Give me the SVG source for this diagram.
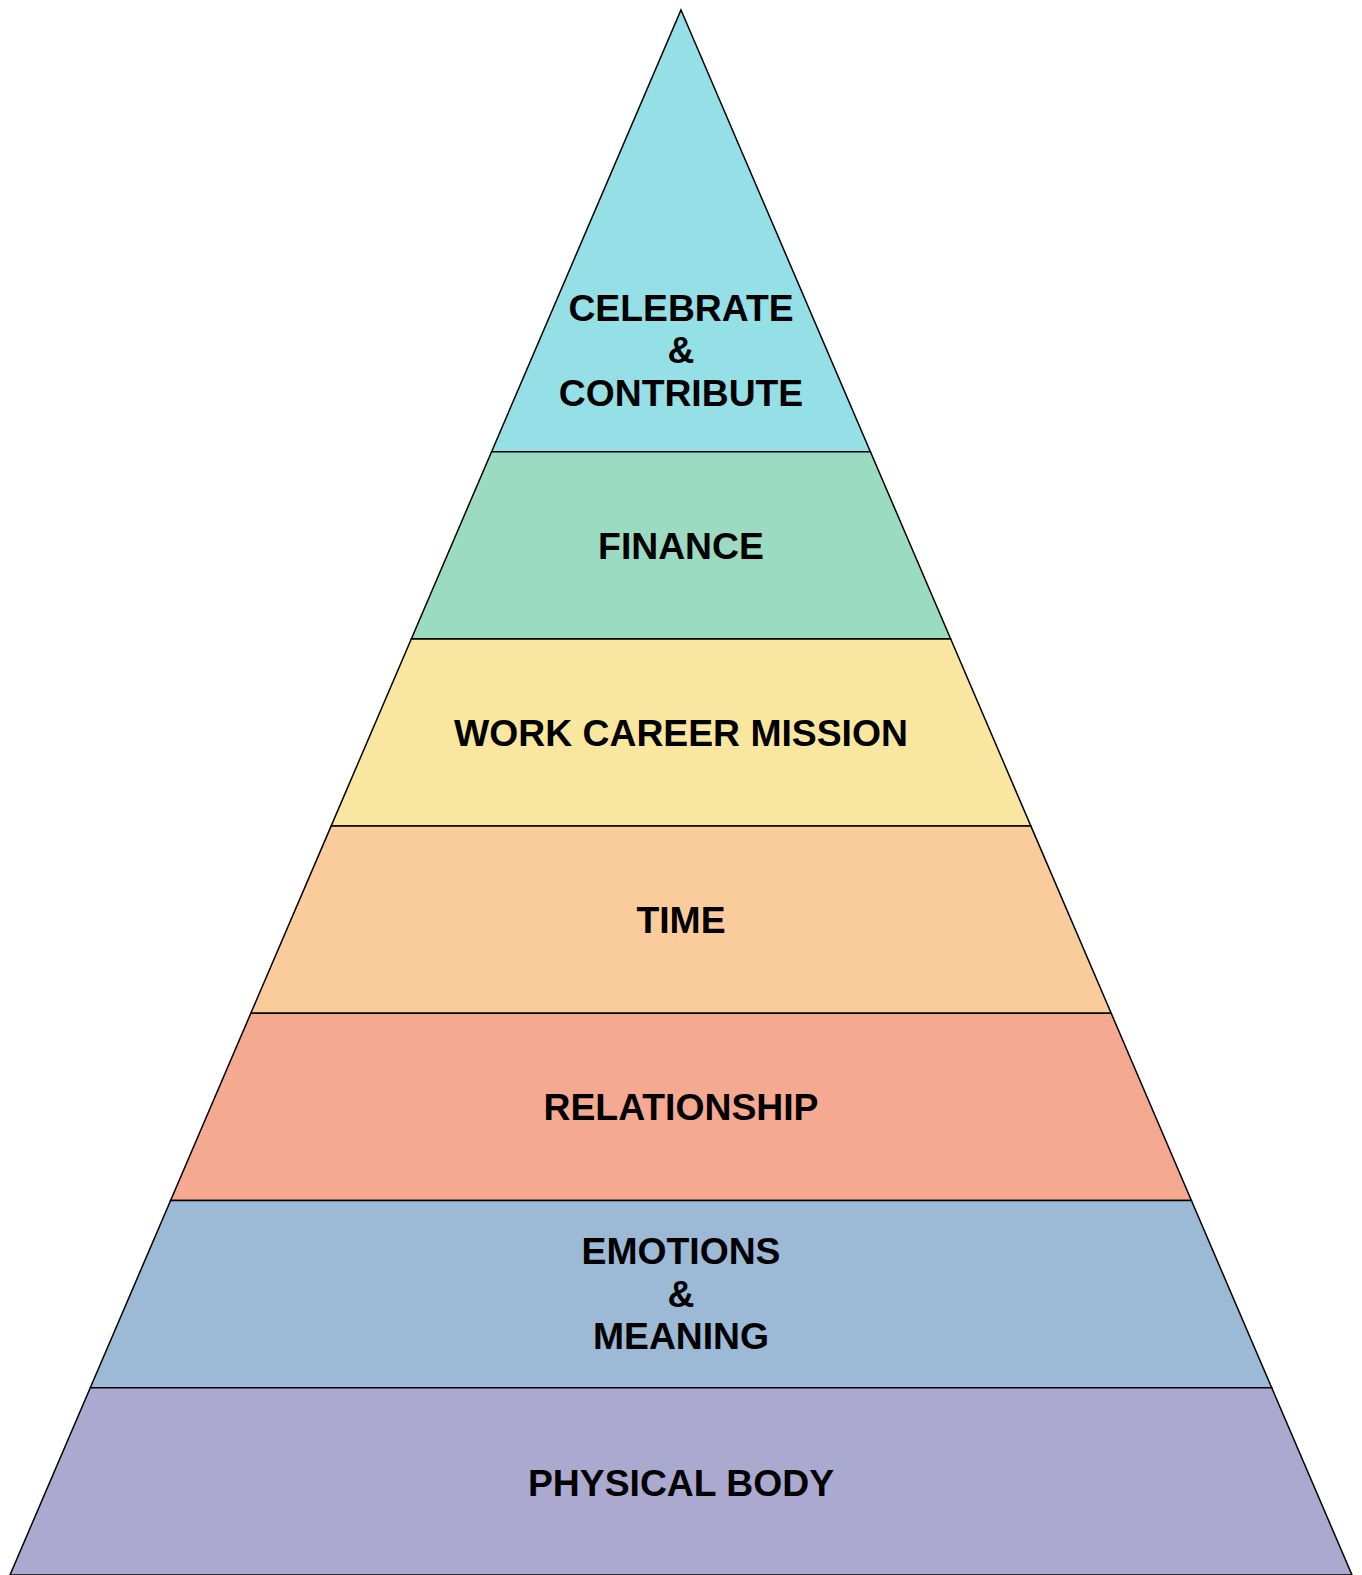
<svg xmlns="http://www.w3.org/2000/svg" width="1362" height="1575" viewBox="0 0 1362 1575">
<style>
.layer{stroke:#000;stroke-width:1.5;stroke-linejoin:miter}
.lbl{font-family:"Liberation Sans",Arial,sans-serif;font-weight:bold;font-size:37.3px;fill:#000;text-anchor:middle}
</style>
<rect width="1362" height="1575" fill="#fff"/>
<g id="celebrate">
<polygon class="layer" fill="#95dfe7" points="681,10 870.4,451.7 491.6,451.7"/>
<text class="lbl" x="681" y="320.7">CELEBRATE</text>
<text class="lbl" x="681" y="363.3">&amp;</text>
<text class="lbl" x="681" y="405.5">CONTRIBUTE</text>
</g>
<g id="finance">
<polygon class="layer" fill="#9bdbc1" points="491.6,451.7 870.4,451.7 950.7,639 411.3,639"/>
<text class="lbl" x="681" y="559">FINANCE</text>
</g>
<g id="work">
<polygon class="layer" fill="#f9e79f" points="411.3,639 950.7,639 1030.9,826.1 331.1,826.1"/>
<text class="lbl" x="681" y="745.7">WORK CAREER MISSION</text>
</g>
<g id="time">
<polygon class="layer" fill="#facb9b" points="331.1,826.1 1030.9,826.1 1111.2,1013.3 250.8,1013.3"/>
<text class="lbl" x="681" y="932.7">TIME</text>
</g>
<g id="relationship">
<polygon class="layer" fill="#f5a990" points="250.8,1013.3 1111.2,1013.3 1191.4,1200.5 170.6,1200.5"/>
<text class="lbl" x="681" y="1120">RELATIONSHIP</text>
</g>
<g id="emotions">
<polygon class="layer" fill="#9cb9d6" points="170.6,1200.5 1191.4,1200.5 1271.7,1387.7 90.3,1387.7"/>
<text class="lbl" x="681" y="1264.3">EMOTIONS</text>
<text class="lbl" x="681" y="1306.7">&amp;</text>
<text class="lbl" x="681" y="1348.5">MEANING</text>
</g>
<g id="physical">
<polygon class="layer" fill="#aba9d0" points="90.3,1387.7 1271.7,1387.7 1352,1575 10,1575"/>
<text class="lbl" x="681" y="1495.7">PHYSICAL BODY</text>
</g>
<g id="connectors"/>
</svg>
